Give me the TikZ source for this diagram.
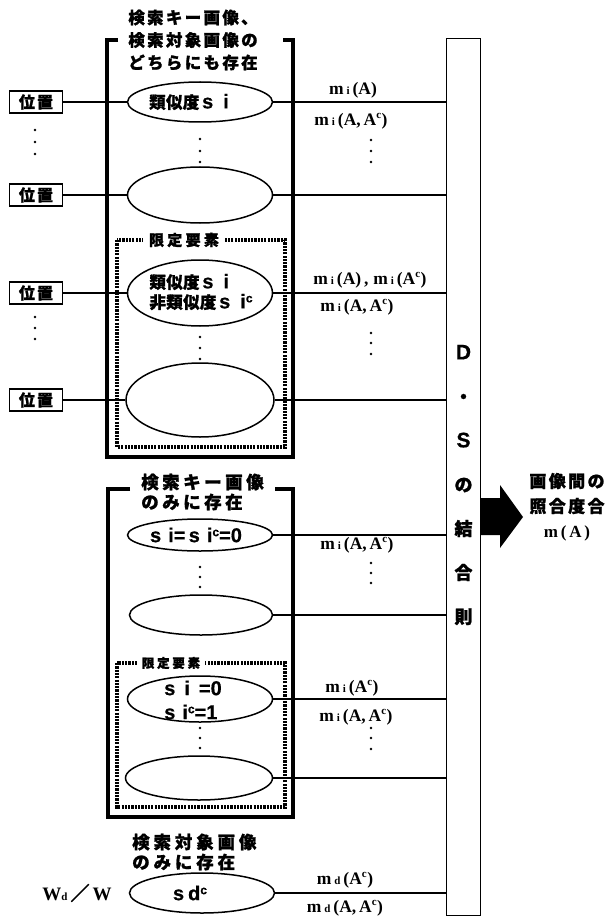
\documentclass[tikz,border=0pt]{standalone}
\usepackage{fontspec}
\setmainfont{Liberation Serif}
\newfontfamily\jpw{Noto Sans CJK JP}[LetterSpace=20, FakeBold=1.2]
\newfontfamily\jph{Noto Sans CJK JP}[LetterSpace=14, FakeBold=1.2]
\newfontfamily\jpp{Noto Sans CJK JP}[LetterSpace=14, FakeBold=1.2]
\newfontfamily\jpn{Noto Sans CJK JP}[LetterSpace=2, FakeBold=1.2]
\newfontfamily\jpm{Noto Sans CJK JP}[LetterSpace=22, FakeBold=1.2]
\newfontfamily\sansf{Liberation Sans}[FakeBold=0.6]
\usetikzlibrary{shapes.geometric}
\newcommand{\lsub}[1]{{\fontsize{11}{11}\selectfont #1}}
\newcommand{\lsup}[1]{\textsuperscript{\fontsize{11}{11}\selectfont #1}}
\newcommand{\lsupb}[1]{\raisebox{6pt}{\fontsize{12}{12}\selectfont #1}}
\newcommand{\lat}[1]{{\sansf\bfseries\fontsize{20}{20}\selectfont #1}}
\begin{document}
\begin{tikzpicture}[x=1pt,y=-1pt,
  posbox/.style={draw, line width=1.7pt, minimum width=53pt, minimum height=22pt, inner sep=0pt, font=\jpp\fontsize{16}{16}\selectfont\bfseries},
  ell/.style={draw, ellipse, line width=1.5pt, inner sep=0pt, minimum width=145pt},
  etext/.style={font=\jpn\fontsize{16.5}{20}\selectfont\bfseries, align=left, inner sep=0pt},
  conn/.style={line width=1.3pt},
  bracket/.style={line width=3.6pt},
  dotbox/.style={line width=3.2pt, dash pattern=on 2.2pt off 1.1pt},
  head/.style={font=\jpw\fontsize{17.5}{20}\selectfont\bfseries, inner sep=0pt},
  lab/.style={font=\fontsize{17.5}{17.5}\selectfont\bfseries, inner sep=0pt},
  dot/.style={circle, fill, inner sep=0pt, minimum size=2.8pt},
  dsbox/.style={draw, line width=1.4pt},
]
\useasboundingbox (0,0) rectangle (610,920);

% ---------- box 1 ----------
\node[head, align=center, font=\jph\fontsize{16.5}{22.5}\selectfont\bfseries] (h1) at (193,40) {検索キー画像、\\検索対象画像の\\どちらにも存在};
\draw[bracket] (118,40) -- (107,40) -- (107,457) -- (293,457) -- (293,40) -- (283,40);

\node[ell, minimum height=40pt] (e1) at (200,102) {};
\node[etext] at (189,102) {類似度\,\lat{s\hspace{10pt}i}};
\node[ell, minimum height=56pt] (e2) at (200,195) {};

% dotted box 1
\draw[dotbox] (117,240) rectangle (285,447);
\node[font=\jpm\fontsize{15}{15}\selectfont\bfseries, fill=white, inner xsep=6pt, inner ysep=3pt] (l1) at (184,240) {限定要素};
\node[ell, minimum height=66pt] (e3) at (200,293) {};
\node[etext] at (201,292) {類似度\,\lat{s\hspace{10pt}i}\\非類似度\,\lat{s\hspace{10pt}i\lsupb{c}}};
\node[ell, minimum height=74pt, minimum width=148pt] (e4) at (200,400) {};

% ---------- box 2 ----------
\node[head, align=left, anchor=west] (h2) at (141,492) {検索キー画像\\のみに存在};
\draw[bracket] (130,489) -- (108,489) -- (108,817) -- (293,817) -- (293,489) -- (275,489);
\node[ell, minimum height=32pt] (e5) at (200,535) {};
\node[etext] at (196,535) {\lat{s\hspace{7pt}i=\,s\hspace{7pt}i\lsupb{c}=0}};
\node[ell, minimum height=40pt, minimum width=143pt] (e6) at (201,615) {};

\draw[dotbox] (117,663) rectangle (285,807);
\node[font=\jpm\fontsize{12.5}{12.5}\selectfont\bfseries, fill=white, inner xsep=5pt, inner ysep=3pt] (l2) at (171,663) {限定要素};
\node[ell, minimum height=46pt] (e7) at (200,699) {};
\node[etext, align=left, font=\sansf\bfseries\fontsize{20}{24}\selectfont] at (193,700) {s\hspace{9pt}i\hspace{9pt}=0\\s\hspace{7pt}i\lsupb{c}=1};
\node[ell, minimum height=44pt, minimum width=147pt] (e8) at (199,778) {};

% ---------- bottom ----------
\node[head, align=left, anchor=west, font=\jpm\fontsize{17.5}{20}\selectfont\bfseries] (h3) at (132,852) {検索対象画像\\のみに存在};
\node[ell, minimum height=40pt] (e9) at (202,893) {};
\node[etext] at (190,893) {\lat{s\hspace{4pt}d\lsupb{c}}};
\node[font=\fontsize{19}{19}\selectfont\bfseries, inner sep=0pt] (w) at (77,893) {W\lsub{d}\,{\jpn ／}\,W};

% ---------- position boxes ----------
\node[posbox] (p1) at (36,102) {位置};
\node[posbox] (p2) at (36,195) {位置};
\node[posbox] (p3) at (36,293) {位置};
\node[posbox] (p4) at (36,400) {位置};

% ---------- D-S box ----------
\node[dsbox, minimum width=34pt, minimum height=877pt, inner sep=0pt] (ds) at (463.5,477) {};
\node[align=center, inner sep=0pt, font=\jpn\fontsize{18}{44}\selectfont\bfseries] (dst) at (463.5,485)
  {{\sansf\fontsize{21}{21}\selectfont D}\\・\\{\sansf\fontsize{21}{21}\selectfont S}\\の\\結\\合\\則};

% arrow
\fill (ds.east |- 0,498) -- (500,498) -- (500,485) -- (523,517) -- (500,548) -- (500,535) -- (ds.east |- 0,535) -- cycle;
\node[font=\jpp\fontsize{17}{25}\selectfont\bfseries, align=center, inner sep=0pt] (res) at (567,507)
  {画像間の\\照合度合\\{\rmfamily\fontsize{17}{17}\selectfont m\,(\,A\,)}};

% ---------- connectors ----------
\draw[conn] (p1.east) -- (e1.west);
\draw[conn] (p2.east) -- (e2.west);
\draw[conn] (p3.east) -- (e3.west);
\draw[conn] (p4.east) -- (e4.west);
\draw[conn] (e1.east) -- (e1.east -| ds.west);
\draw[conn] (e2.east) -- (e2.east -| ds.west);
\draw[conn] (e3.east) -- (e3.east -| ds.west);
\draw[conn] (e4.east) -- (e4.east -| ds.west);
\draw[conn] (e5.east) -- (e5.east -| ds.west);
\draw[conn] (e6.east) -- (e6.east -| ds.west);
\draw[conn] (e7.east) -- (e7.east -| ds.west);
\draw[conn] (e8.east) -- (e8.east -| ds.west);
\draw[conn] (e9.east) -- (e9.east -| ds.west);

% ---------- labels ----------
\node[lab] at (353,90) {m\,\lsub{i}\,(A)};
\node[lab] at (351,121) {m\,\lsub{i}\,(A,\,A\lsup{c})};
\node[lab] at (370,280) {m\,\lsub{i}\,(A)\,,\;m\,\lsub{i}\,(A\lsup{c})};
\node[lab] at (357,307) {m\,\lsub{i}\,(A,\,A\lsup{c})};
\node[lab] at (357,545) {m\,\lsub{i}\,(A,\,A\lsup{c})};
\node[lab] at (352,688) {m\,\lsub{i}\,(A\lsup{c})};
\node[lab] at (356,717) {m\,\lsub{i}\,(A,\,A\lsup{c})};
\node[lab] at (345,880) {m\,\lsub{d}\,(A\lsup{c})};
\node[lab] at (345,908) {m\,\lsub{d}\,(A,\,A\lsup{c})};

% ---------- dots ----------
\foreach \y in {130,142,154, 317,328,339} \node[dot] at (35,\y) {};
\foreach \y in {139,151,162, 337,348,359, 567,577,587, 728,738,748} \node[dot] at (200,\y) {};
\foreach \y in {140,151,162, 333,343,354, 563,573,583, 728,738,749} \node[dot] at (371,\y) {};
\end{tikzpicture}
\end{document}
